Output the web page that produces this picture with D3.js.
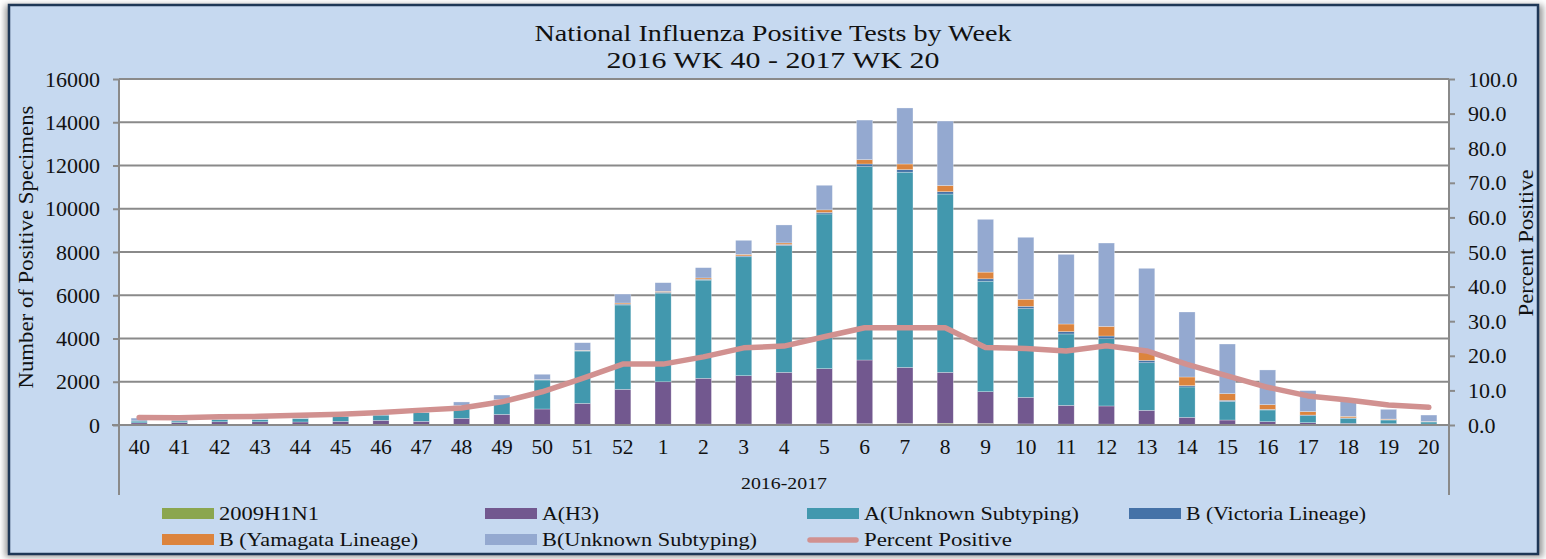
<!DOCTYPE html>
<html>
<head>
<meta charset="utf-8">
<script src="https://cdn.jsdelivr.net/npm/d3@7"></script>
<style>
  html, body { margin: 0; padding: 0; background: #ffffff; }
  svg { display: block; }
  text { font-family: "Liberation Serif", "DejaVu Serif", serif; fill: #111; }
</style>
</head>
<body>
<svg id="chart" width="1546" height="559"></svg>
<script>
// ---- Data ----
const weeks = ["40","41","42","43","44","45","46","47","48","49","50","51","52",
  "1","2","3","4","5","6","7","8","9","10","11","12","13","14","15","16","17","18","19","20"];

const h1n1 = [5,5,5,5,5,5,10,10,10,15,20,25,30,35,40,40,45,50,60,70,80,70,50,40,40,35,30,25,20,15,15,10,10];
const aH3 = [95,110,145,145,135,165,205,160,300,475,720,975,1620,1965,2120,2240,2390,2555,2945,2595,2355,1470,1230,870,840,645,325,205,135,93,60,50,35];
const aUnknown = [85,75,110,110,170,215,245,400,585,670,1340,2420,3900,4100,4540,5500,5865,7155,8945,9025,8245,5110,4100,3300,3110,2200,1405,865,540,324,235,170,95];
const bVictoria = [2,2,2,2,3,3,4,4,5,5,10,10,40,40,40,40,50,70,120,120,110,110,110,110,125,110,60,45,30,30,20,15,10];
const bYamagata = [3,3,3,3,3,4,4,4,5,7,10,20,50,40,60,70,70,120,200,260,285,310,325,350,445,385,400,310,215,158,70,30,15];
const bUnknown = [130,105,65,65,74,78,112,122,160,213,245,355,415,400,475,650,830,1135,1830,2590,2980,2440,2865,3220,3855,3870,3005,2295,1605,970,800,450,295];
const percentPositive = [2.2,2.1,2.4,2.5,2.8,3.1,3.6,4.3,4.9,6.7,9.6,13.5,17.6,17.6,19.7,22.3,22.8,25.5,28.1,28.1,28.1,22.4,22.1,21.4,22.9,21.4,17.5,14.2,10.9,8.4,7.2,5.8,5.1];

const leftTicks = [0,2000,4000,6000,8000,10000,12000,14000,16000];
const rightTicks = [0,10,20,30,40,50,60,70,80,90,100];

const seriesNames = ["2009H1N1","A(H3)","A(Unknown Subtyping)","B (Victoria Lineage)","B (Yamagata Lineage)","B(Unknown Subtyping)"];
const seriesArrays = [h1n1, aH3, aUnknown, bVictoria, bYamagata, bUnknown];
const lineName = "Percent Positive";
const titleLines = ["National Influenza Positive Tests by Week", "2016 WK 40 - 2017 WK 20"];

// ---- Styles ----
const colors = ["#8ba64f","#72588f","#4298ae","#4572a7","#dc843d","#94a9d0"];
const lineColor = "#d19190";
// rendered widths of the legend labels (the reference font is wider than the available serif)
const legendTextWidths = [100,57,215,180,199,215,148];

// ---- Layout ----
const svg = d3.select("#chart");
const plot = {left: 119, right: 1449, top: 79, bottom: 425};

// frame with soft shadow
const defs = svg.append("defs");
const f = defs.append("filter").attr("id","shadow").attr("x","-5%").attr("y","-5%").attr("width","110%").attr("height","110%");
f.append("feGaussianBlur").attr("stdDeviation", 3);
svg.append("rect").attr("x",5).attr("y",5).attr("width",1538).attr("height",552)
  .attr("fill","#9a9a9a").attr("filter","url(#shadow)");
svg.append("rect").attr("x",9).attr("y",5).attr("width",1529).attr("height",549)
  .attr("fill","#c6d9f0").attr("stroke","#1e3756").attr("stroke-width",2.5);

// plot background
svg.append("rect").attr("x",plot.left).attr("y",plot.top)
  .attr("width",plot.right-plot.left).attr("height",plot.bottom-plot.top).attr("fill","#ffffff");

const x = d3.scaleBand().domain(weeks).range([plot.left, plot.right]).paddingInner(0.6).paddingOuter(0.3);
const y = d3.scaleLinear().domain([0,16000]).range([plot.bottom, plot.top]);
const y2 = d3.scaleLinear().domain([0,100]).range([plot.bottom, plot.top]);

// gridlines
svg.append("g").selectAll("line").data(leftTicks.filter(d=>d>0)).join("line")
  .attr("x1",plot.left).attr("x2",plot.right)
  .attr("y1",d=>y(d)).attr("y2",d=>y(d))
  .attr("stroke","#8a8a8a").attr("stroke-width",2);

// stacked bars
const table = weeks.map((w,i)=>{
  const o = {week:w};
  seriesNames.forEach((s,j)=>o[s]=seriesArrays[j][i]);
  return o;
});
const stack = d3.stack().keys(seriesNames)(table);
const gBars = svg.append("g");
stack.forEach((layer,j)=>{
  gBars.append("g").attr("fill",colors[j]).selectAll("rect").data(layer).join("rect")
    .attr("x",d=>x(d.data.week))
    .attr("width",x.bandwidth())
    .attr("y",d=>y(d[1]))
    .attr("height",d=>Math.max(0,y(d[0])-y(d[1])))
    .attr("stroke","rgba(255,255,255,0.45)").attr("stroke-width",0.6);
});

// percent line
const line = d3.line().x((d,i)=>x(weeks[i])+x.bandwidth()/2).y(d=>y2(d));
svg.append("path").datum(percentPositive).attr("d",line)
  .attr("fill","none").attr("stroke",lineColor).attr("stroke-width",5.5)
  .attr("stroke-linejoin","round").attr("stroke-linecap","round");

// left axis
const axL = svg.append("g").attr("transform",`translate(${plot.left},0)`)
  .call(d3.axisLeft(y).tickValues(leftTicks).tickFormat(d3.format("d")).tickSize(6).tickPadding(13));
axL.select(".domain").remove();
axL.selectAll(".tick line").attr("stroke","#8a8a8a").attr("stroke-width",2);
axL.selectAll("text").style("font-size","22px").attr("fill","#111");

// right axis
const axR = svg.append("g").attr("transform",`translate(${plot.right},0)`)
  .call(d3.axisRight(y2).tickValues(rightTicks).tickFormat(d3.format(".1f")).tickSize(6).tickPadding(13));
axR.select(".domain").remove();
axR.selectAll(".tick line").attr("stroke","#8a8a8a").attr("stroke-width",2);
axR.selectAll("text").style("font-size","22px").attr("fill","#111");

// bottom axis
const axB = svg.append("g").attr("transform",`translate(0,${plot.bottom})`)
  .call(d3.axisBottom(x).tickSize(0).tickPadding(14));
axB.select(".domain").remove();
axB.selectAll("text").style("font-size","21.5px").attr("fill","#111");

// axis lines
const axisColor = "#8a8a8a";
svg.append("line").attr("x1",plot.left-7).attr("x2",plot.right).attr("y1",plot.bottom).attr("y2",plot.bottom)
  .attr("stroke",axisColor).attr("stroke-width",2);
svg.append("line").attr("x1",plot.left).attr("x2",plot.left).attr("y1",plot.top).attr("y2",495)
  .attr("stroke",axisColor).attr("stroke-width",2);
svg.append("line").attr("x1",plot.right).attr("x2",plot.right).attr("y1",plot.top).attr("y2",495)
  .attr("stroke",axisColor).attr("stroke-width",2);

// category group label
svg.append("text").attr("x",784).attr("y",489).attr("text-anchor","middle")
  .attr("textLength",86).attr("lengthAdjust","spacingAndGlyphs")
  .style("font-size","17px").text("2016-2017");

// titles
svg.append("text").attr("x",773).attr("y",41).attr("text-anchor","middle").style("font-size","23px")
  .attr("textLength",477).attr("lengthAdjust","spacingAndGlyphs").text(titleLines[0]);
svg.append("text").attr("x",773).attr("y",68).attr("text-anchor","middle").style("font-size","23px")
  .attr("textLength",333).attr("lengthAdjust","spacingAndGlyphs").text(titleLines[1]);

svg.append("text").attr("transform","translate(33,247) rotate(-90)").attr("text-anchor","middle")
  .attr("textLength",283).attr("lengthAdjust","spacingAndGlyphs")
  .style("font-size","21.5px").text("Number of Positive Specimens");
svg.append("text").attr("transform","translate(1533,243) rotate(-90)").attr("text-anchor","middle")
  .attr("textLength",147).attr("lengthAdjust","spacingAndGlyphs")
  .style("font-size","21.5px").text(lineName);

// legend
const legendItems = seriesNames.map((n,i)=>({name:n,color:colors[i],type:"rect"}))
  .concat([{name:lineName,color:lineColor,type:"line"}]);
const colX = [162,485,807,1129];
const rowY = [514,540];
const lg = svg.append("g");
legendItems.forEach((d,i)=>{
  const r = i<4 ? 0 : 1;
  const c = i<4 ? i : i-4;
  const gx = colX[c], gy = rowY[r];
  if (d.type==="rect") {
    lg.append("rect").attr("x",gx).attr("y",gy-6).attr("width",52).attr("height",11).attr("fill",d.color);
  } else {
    lg.append("line").attr("x1",gx+3).attr("x2",gx+49).attr("y1",gy).attr("y2",gy)
      .attr("stroke",d.color).attr("stroke-width",5.5).attr("stroke-linecap","round");
  }
  lg.append("text").attr("x",gx+57).attr("y",gy+6).style("font-size","19px")
    .attr("textLength",legendTextWidths[i]).attr("lengthAdjust","spacingAndGlyphs").text(d.name);
});
</script>
</body>
</html>
